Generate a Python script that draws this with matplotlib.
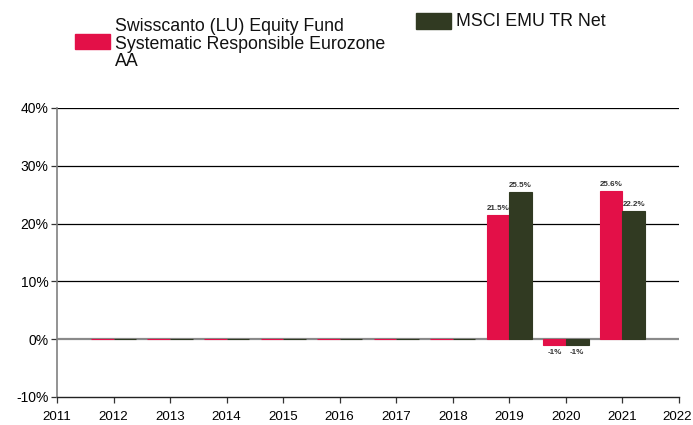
import matplotlib
matplotlib.use("Agg")
import matplotlib.pyplot as plt
from matplotlib import font_manager
from matplotlib.patches import Rectangle
import matplotlib.transforms as mtransforms
import numpy as np

years = [2012, 2013, 2014, 2015, 2016, 2017, 2018, 2019, 2020, 2021]
fund = [0, 0, 0, 0, 0, 0, 0, 21.5, -1, 25.6]
bench = [0, 0, 0, 0, 0, 0, 0, 25.5, -1, 22.2]
fund_labels = {2019: "21.5%", 2020: "-1%", 2021: "25.6%"}
bench_labels = {2019: "25.5%", 2020: "-1%", 2021: "22.2%"}
fund_name = "Swisscanto (LU) Equity Fund\nSystematic Responsible Eurozone\nAA"
bench_name = "MSCI EMU TR Net"
xticks = list(range(2011, 2023))
yticks = [-10, 0, 10, 20, 30, 40]

RED = "#E31048"
GREEN = "#313A22"

names = {f.name for f in font_manager.fontManager.ttflist}
BASE = "Liberation Sans" if "Liberation Sans" in names else "DejaVu Sans"
plt.rcParams["font.family"] = [BASE, "DejaVu Sans"]

fig = plt.figure(figsize=(6.93, 4.25), dpi=100)
W, H = 693, 425
ax = fig.add_axes([57 / W, 1 - 397 / H, (679 - 57) / W, (397 - 108) / H])

bw = 0.4
x = np.array(years, dtype=float)
ax.bar(x - bw / 2, fund, width=bw, color=RED, edgecolor=RED, linewidth=0.8, zorder=3)
ax.bar(x + bw / 2, bench, width=bw, color=GREEN, edgecolor=GREEN, linewidth=0.8, zorder=3)

for yv in [10, 20, 30, 40]:
    ax.axhline(yv, color="black", linewidth=0.9, zorder=1)
ax.axhline(0, color="#8a8a8a", linewidth=1.6, zorder=2)

lab_kw = dict(fontsize=5.8, fontweight="bold", color="#333333", ha="center")
for yr, v in zip(years, fund):
    if yr in fund_labels:
        if v >= 0:
            ax.annotate(fund_labels[yr], (yr - bw / 2, v), xytext=(0, 2), textcoords="offset points", va="bottom", **lab_kw)
        else:
            ax.annotate(fund_labels[yr], (yr - bw / 2, v), xytext=(0, -3), textcoords="offset points", va="top", **lab_kw)
for yr, v in zip(years, bench):
    if yr in bench_labels:
        if v >= 0:
            ax.annotate(bench_labels[yr], (yr + bw / 2, v), xytext=(0, 2), textcoords="offset points", va="bottom", **lab_kw)
        else:
            ax.annotate(bench_labels[yr], (yr + bw / 2, v), xytext=(0, -3), textcoords="offset points", va="top", **lab_kw)

ax.set_xlim(2011, 2022)
ax.set_ylim(-10, 40)
ax.set_xticks(xticks)
ax.set_xticklabels([str(t) for t in xticks], fontsize=9.6)
ax.set_yticks(yticks)
ax.set_yticklabels([f"{t}%" for t in yticks], fontsize=10)
ax.tick_params(axis="x", direction="out", length=4, width=0.9, color="#333333", pad=6)
ax.tick_params(axis="y", direction="out", length=4, width=0.9, color="#333333", pad=2)
for s in ["top", "right"]:
    ax.spines[s].set_visible(False)
ax.spines["left"].set_color("#808080")
ax.spines["left"].set_linewidth(1.2)
ax.spines["bottom"].set_color("#222222")
ax.spines["bottom"].set_linewidth(1.0)

# keep last year label inside the canvas
last = ax.get_xticklabels()[-1]
last.set_transform(last.get_transform() + mtransforms.ScaledTranslation(-2 / 100, 0, fig.dpi_scale_trans))

# legend
fig.patches.append(Rectangle((75 / W, 1 - 49 / H), 35 / W, 15 / H, transform=fig.transFigure, color=RED))
fig.text(115 / W, 1 - 18 / H, fund_name, fontsize=12.8, va="top", ha="left", linespacing=1.05, color="#111111")
fig.patches.append(Rectangle((416 / W, 1 - 29 / H), 35 / W, 16 / H, transform=fig.transFigure, color=GREEN))
fig.text(456 / W, 1 - 13 / H, bench_name, fontsize=12.8, va="top", ha="left", color="#111111")

fig.savefig("out.png", dpi=100)
